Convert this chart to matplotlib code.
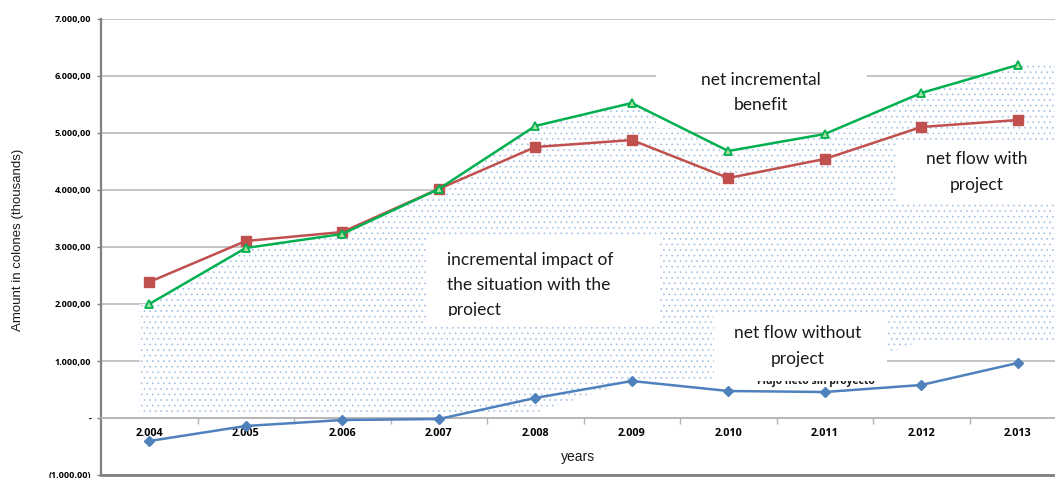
import numpy as np
import matplotlib.pyplot as plt
from matplotlib.patches import Rectangle
from matplotlib.ticker import FixedLocator

# ---------------------------------------------------------------------------
# data (thousands of colones)
# ---------------------------------------------------------------------------
years = ['2.004', '2.005', '2.006', '2.007', '2.008',
         '2.009', '2.010', '2.011', '2.012', '2.013']
with_project = [2386, 3105, 3263, 4018, 4754, 4877, 4210, 4544, 5105, 5228]
incremental = [2000, 2982, 3228, 4018, 5123, 5526, 4684, 4982, 5702, 6193]
without_project = [-404, -140, -35, -18, 351, 649, 474, 456, 579, 965]

# dotted band (incremental impact area)
shade_top = incremental
shade_bottom = [90, 90, 90, 90, 90, 650, 700, 750, 1350, 1350]

y_ticks = [-1000, 0, 1000, 2000, 3000, 4000, 5000, 6000, 7000]
y_tick_labels = ['(1.000,00)', '-', '1.000,00', '2.000,00', '3.000,00',
                 '4.000,00', '5.000,00', '6.000,00', '7.000,00']

RED = '#c0504d'
GREEN = '#00b050'
BLUE = '#4f81bd'
GRID = '#b4b4b4'
FRAME = '#808080'

plt.rcParams['hatch.linewidth'] = 0.5

fig = plt.figure(figsize=(10.55, 4.78), dpi=100)
ax = fig.add_axes([101 / 1055, 3 / 478, 965 / 1055, 456 / 478])

x = np.arange(len(years))
ax.set_xlim(-0.5, len(years) - 0.5)
ax.set_ylim(-1000, 7000)

# grid and frame
ax.set_axisbelow(True)
ax.yaxis.set_major_locator(FixedLocator(y_ticks))
ax.set_yticklabels(y_tick_labels, fontsize=6.5, fontweight='bold',
                   family='Open Sans', color='black')
ax.grid(axis='y', color=GRID, linewidth=1.1, zorder=0.5)
ax.tick_params(axis='y', length=3, width=1, color=FRAME, pad=4)

ax.spines['right'].set_visible(False)
ax.spines['top'].set_visible(False)
ax.spines['left'].set_color(FRAME)
ax.spines['left'].set_linewidth(1.6)
ax.spines['bottom'].set_position(('data', 0))
ax.spines['bottom'].set_color(GRID)
ax.spines['bottom'].set_linewidth(1.1)
ax.axhline(-1000, color=FRAME, linewidth=2, clip_on=False, zorder=6)

ax.set_xticks(x)
ax.set_xticklabels(years, fontsize=7.8, fontweight='bold', family='Open Sans',
                   color='black')
ax.set_xticks(x[:-1] + 0.5, minor=True)
ax.tick_params(axis='x', which='major', length=0, pad=7)
ax.tick_params(axis='x', which='minor', length=4, width=1, color=GRID,
               direction='out')

# dotted band under the incremental line
xs = np.r_[-0.1, x, len(years) - 0.5]
top = np.r_[shade_top[0], shade_top, shade_top[-1]]
bottom = np.r_[shade_bottom[0], shade_bottom, shade_bottom[-1]]
ax.fill_between(xs, bottom, top, facecolor='white', edgecolor='#a3c0e6',
                hatch='...', linewidth=0, zorder=1)

# text boxes (white panels laid over the band)
def panel(x0, x1, y0, y1):
    r = Rectangle((x0, y0), x1 - x0, y1 - y0, facecolor='white',
                  edgecolor='none', zorder=2)
    ax.add_patch(r)
    return r

box_font = dict(family='Lato', fontsize=12.5, color='#1a1a1a', zorder=2.5,
                linespacing=1.7)

panel(5.25, 7.44, 5090, 6460)
ax.text(6.34, 5711, 'net incremental\nbenefit', ha='center', va='center',
        **box_font)

panel(7.74, 9.6, 3770, 4880)
ax.text(8.57, 4316, 'net flow with\nproject', ha='center', va='center',
        **box_font)

panel(2.88, 5.29, 1630, 3210)
clip = Rectangle((2.88, 1790), 2.41, 1420, transform=ax.transData)
t = ax.text(3.09, 2333, 'incremental impact of\nthe situation with the\nproject',
            ha='left', va='center', **box_font)
t.set_clip_on(True)
t.set_clip_path(clip)

ax.text(6.91, 649, 'Flujo neto sin proyecto', ha='center', va='center',
        family='Open Sans', fontsize=7.5, fontweight='bold', color='#1a1a1a',
        zorder=1.9)
panel(5.85, 7.65, 649, 1790)
ax.text(6.72, 1263, 'net flow without\nproject', ha='center', va='center',
        **box_font)

# series
ax.plot(x, with_project, color=RED, linewidth=1.8, marker='s', markersize=6.5,
        markerfacecolor=RED, markeredgecolor=RED, zorder=4)
ax.plot(x, incremental, color=GREEN, linewidth=1.8, marker='^', markersize=5.5,
        markerfacecolor='#a6e3a0', markeredgecolor=GREEN, markeredgewidth=1.3,
        zorder=4)
ax.plot(x, without_project, color=BLUE, linewidth=1.8, marker='D',
        markersize=5, markerfacecolor=BLUE, markeredgecolor=BLUE, zorder=4)

fig.text(18 / 1055, 1 - 240 / 478, 'Amount in colones (thousands)',
         rotation=90, ha='center', va='center', family='Liberation Sans',
         fontsize=9.5, color='#1a1a1a')
fig.text(578 / 1055, 1 - 457 / 478, 'years', ha='center', va='center',
         family='Liberation Sans', fontsize=10, color='#1a1a1a')

fig.savefig('out.png', dpi=100)
